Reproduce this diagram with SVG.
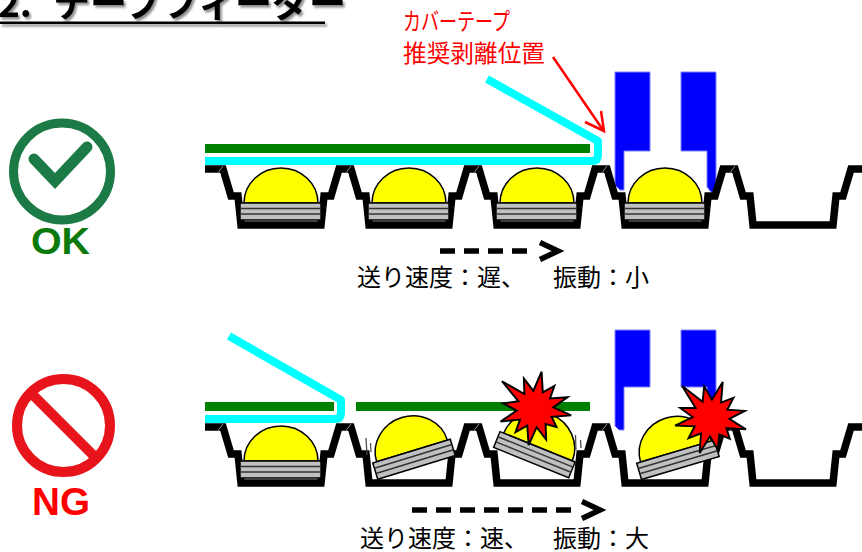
<svg xmlns="http://www.w3.org/2000/svg" xmlns:xlink="http://www.w3.org/1999/xlink" width="862" height="552" viewBox="0 0 862 552">
  <style>
    .jp{font-family:"Noto Sans CJK JP","Noto Sans CJK SC",sans-serif}
    .tape{fill:none;stroke:#000;stroke-width:7.5;stroke-linejoin:miter;stroke-miterlimit:10}
    .seam{stroke:#8a8a8a;stroke-width:1}
    .green{fill:#008000}
    .cover{fill:none;stroke:#00ffff;stroke-width:8;stroke-linejoin:round}
    .nozzle{fill:#0000ff;stroke:#8080ff;stroke-width:1}
    .dash{fill:none;stroke:#000;stroke-width:5.5;stroke-dasharray:15 9}
    .head{fill:none;stroke:#000;stroke-width:5.5;stroke-linejoin:miter}
    .burst{fill:#ff0000;stroke:#000;stroke-width:1.8;stroke-linejoin:miter}
    .motion{stroke:#444;stroke-width:1.2}
    .caption{font-size:24px;fill:#000}
  </style>
  <defs>
    <filter id="shadow" x="-5%" y="-50%" width="115%" height="200%">
      <feDropShadow dx="2" dy="2.5" stdDeviation="1.3" flood-color="#000" flood-opacity="0.45"/>
    </filter>
    <!-- LED: origin at the top centre of the package base -->
    <g id="led">
      <path d="M-37,0 A37,35 0 0 1 37,0 Z" fill="#ffff00" stroke="#000" stroke-width="1.5"/>
      <rect x="-41" y="0" width="81" height="17" fill="#c0c0c0" stroke="#000" stroke-width="1.5"/>
      <line x1="-41" y1="5.5" x2="40" y2="5.5" stroke="#333" stroke-width="1.5"/>
      <line x1="-41" y1="11" x2="40" y2="11" stroke="#333" stroke-width="1.5"/>
    </g>
    <!-- embossed carrier tape with five pockets -->
    <g id="carrier">
      <path class="tape" d="M205,169 L223,169 L231,196 L238,196 L241,225 L321,225 L324,196 L331,196 L339,169 L351,169 L359,196 L366,196 L369,225 L449,225 L452,196 L459,196 L467,169 L479,169 L487,196 L494,196 L497,225 L577,225 L580,196 L587,196 L595,169 L607,169 L615,196 L622,196 L625,225 L705,225 L708,196 L715,196 L723,169 L735,169 L743,196 L750,196 L753,225 L833,225 L836,196 L843,196 L851,169 L866,169"/>
      <line class="seam" x1="223" y1="166" x2="218" y2="172.5"/>
      <line class="seam" x1="351" y1="166" x2="346" y2="172.5"/>
      <line class="seam" x1="479" y1="166" x2="474" y2="172.5"/>
      <line class="seam" x1="607" y1="166" x2="602" y2="172.5"/>
      <line class="seam" x1="735" y1="166" x2="730" y2="172.5"/>
    </g>
    <polygon id="burst" class="burst" points="6.1,-34.5 7.2,-15.4 18,-21.4 13.9,-9.8 30.1,-10.9 16.9,-1.5 33.5,5.9 15.4,7.2 19.9,16.7 9.8,13.9 10.3,28.2 1.5,16.9 -5.9,33.5 -7.2,15.4 -18,21.4 -13.9,9.8 -31.9,11.6 -16.9,1.5 -29.5,-5.2 -15.4,-7.2 -30.6,-25.7 -9.8,-13.9 -10.3,-28.2 -1.5,-16.9"/>
  </defs>

  <rect width="862" height="552" fill="#fff"/>

  <!-- heading -->
  <g id="title" filter="url(#shadow)">
    <text class="jp" x="-2" y="17" font-size="37" font-weight="700" fill="#000">2. <tspan x="53">テープフィーダー</tspan></text>
    <rect x="0" y="21.5" width="325" height="2.5" fill="#000"/>
  </g>

  <!-- peel-off position callout -->
  <g id="peel-label">
    <text class="jp" x="403" y="29.5" font-size="24" fill="#ff0000" textLength="107" lengthAdjust="spacingAndGlyphs">カバーテープ</text>
    <text class="jp" x="403" y="61.5" font-size="23.5" fill="#ff0000" textLength="142" lengthAdjust="spacingAndGlyphs">推奨剥離位置</text>
  </g>

  <!-- OK badge -->
  <g id="ok-badge">
    <circle cx="62" cy="171.5" r="48.5" fill="none" stroke="#1b7a45" stroke-width="9"/>
    <polyline points="34,159 55,181 87,147" fill="none" stroke="#1b7a45" stroke-width="11" stroke-linecap="round" stroke-linejoin="miter"/>
    <text x="31" y="253.5" font-family="'Liberation Sans',Arial,sans-serif" font-weight="700" font-size="36" fill="#0b7a0b" textLength="59" lengthAdjust="spacingAndGlyphs">OK</text>
  </g>

  <!-- NG badge -->
  <g id="ng-badge">
    <circle cx="63.5" cy="425.5" r="46.5" fill="none" stroke="#e8141b" stroke-width="10"/>
    <line x1="31" y1="393" x2="96" y2="458" stroke="#e8141b" stroke-width="10"/>
    <text x="32" y="515" font-family="'Liberation Sans',Arial,sans-serif" font-weight="700" font-size="39" fill="#ff0000" textLength="58" lengthAdjust="spacingAndGlyphs">NG</text>
  </g>

  <!-- OK case: slow feed, low vibration -->
  <g id="ok-case">
    <rect class="green" x="205" y="144" width="385" height="9"/>
    <path class="cover" d="M205,161 H592 Q598,161 598,155 V141 L487,79"/>
    <g id="ok-nozzle">
      <path class="nozzle" d="M615,72 H650 V151 H624 V190 H620 L615,185 Z"/>
      <path class="nozzle" d="M681,72 H716 V192 H711 L707,187 V151 H681 Z"/>
    </g>
    <use xlink:href="#carrier"/>
    <use xlink:href="#led" transform="translate(281,203)"/>
    <use xlink:href="#led" transform="translate(409,203)"/>
    <use xlink:href="#led" transform="translate(537,203)"/>
    <use xlink:href="#led" transform="translate(665,203)"/>
  </g>

  <!-- NG case: fast feed, strong vibration -->
  <g id="ng-case">
    <rect class="green" x="205" y="402" width="129" height="9"/>
    <rect class="green" x="356" y="402" width="234" height="9"/>
    <path class="cover" d="M205,419 H335 Q341,419 341,413 V400 L229,336"/>
    <g id="ng-nozzle">
      <path class="nozzle" d="M615,330 H650 V387 H624 V430 H619 L615,426 Z"/>
      <path class="nozzle" d="M681,330 H716 V412 H707 V387 H681 Z"/>
    </g>
    <use xlink:href="#carrier" transform="translate(0,258)"/>
    <use xlink:href="#led" transform="translate(281,461)"/>
    <use xlink:href="#led" transform="translate(412,451) rotate(-17)"/>
    <use xlink:href="#led" transform="translate(538,447) rotate(22)"/>
    <use xlink:href="#led" transform="translate(676,451.5) rotate(-16.5)"/>
    <line class="motion" x1="366" y1="438" x2="367" y2="455"/>
    <line class="motion" x1="370.5" y1="443" x2="371" y2="452"/>
    <line class="motion" x1="575.5" y1="435" x2="576" y2="450"/>
    <line class="motion" x1="580.5" y1="440" x2="581" y2="448"/>
    <use xlink:href="#burst" transform="translate(535,409) scale(1.08)"/>
    <use xlink:href="#burst" transform="translate(711,418) rotate(8) scale(1.08)"/>
  </g>

  <!-- callout and feed arrows -->
  <g id="connectors">
    <line x1="553" y1="57" x2="603" y2="130" stroke="#ff0000" stroke-width="2.5"/>
    <polyline points="585,122 604,131 601,111" fill="none" stroke="#ff0000" stroke-width="2.5" stroke-linejoin="miter"/>
    <line class="dash" x1="440" y1="251" x2="527" y2="251"/>
    <polyline class="head" points="540,242.5 558,251 540,259.5"/>
    <line class="dash" x1="412" y1="510" x2="571" y2="510"/>
    <polyline class="head" points="582,501.5 600,510 582,518.5"/>
  </g>

  <!-- feed conditions -->
  <g id="captions">
    <text class="jp caption" x="357" y="286">送り速度：遅、 <tspan x="553">振動：小</tspan></text>
    <text class="jp caption" x="360" y="547">送り速度：速、 <tspan x="553">振動：大</tspan></text>
  </g>
</svg>
